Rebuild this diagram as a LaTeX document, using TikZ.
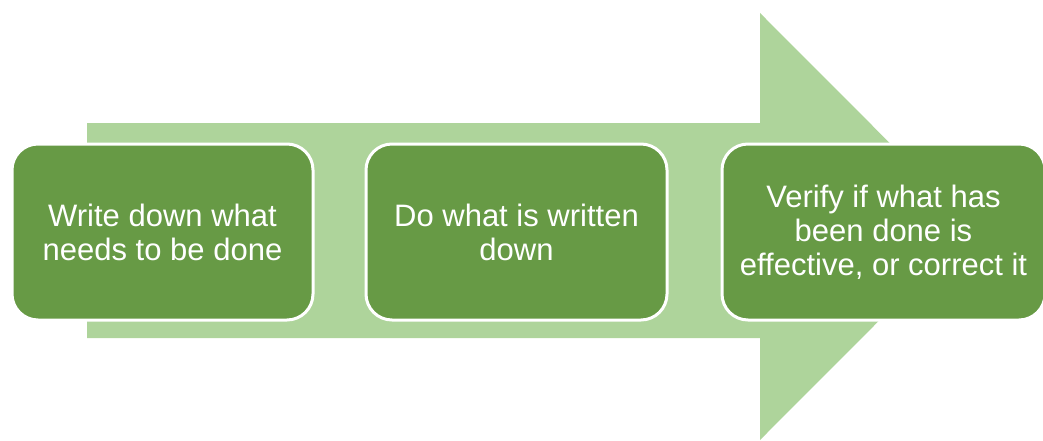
\documentclass[tikz,border=0pt]{standalone}
\usepackage{fontspec}
\setmainfont{Liberation Sans}
\usetikzlibrary{positioning}

\definecolor{stepgreen}{HTML}{679A45}
\definecolor{arrowgreen}{HTML}{AED49B}

\begin{document}
\begin{tikzpicture} [
    x=1pt, y=1pt,
    node distance=50pt,
    stepbox/.style={rectangle, draw=white, line width=3pt, fill=stepgreen, text=white, align=center, rounded corners=26pt, minimum width=301pt, minimum height=176pt, inner sep=0pt, font=\fontsize{31}{34}\selectfont},
    bigarrow/.style={fill=arrowgreen}
]
    \useasboundingbox (0,0) rectangle (1043,440);

    % Background arrow
    \fill[bigarrow] (87,102) -- (760,102) -- (760,0) -- (973,213.5) -- (760,427) -- (760,317) -- (87,317) -- cycle;

    % Nodes
    \node[stepbox] (write) at (162.5,208) {Write down what\\needs to be done};
    \node[stepbox, right=of write] (do) {Do what is written\\down};
    \node[stepbox, right=52pt of do, minimum width=323pt] (verify) {Verify if what has\\been done is\\effective, or correct it};

\end{tikzpicture}
\end{document}
